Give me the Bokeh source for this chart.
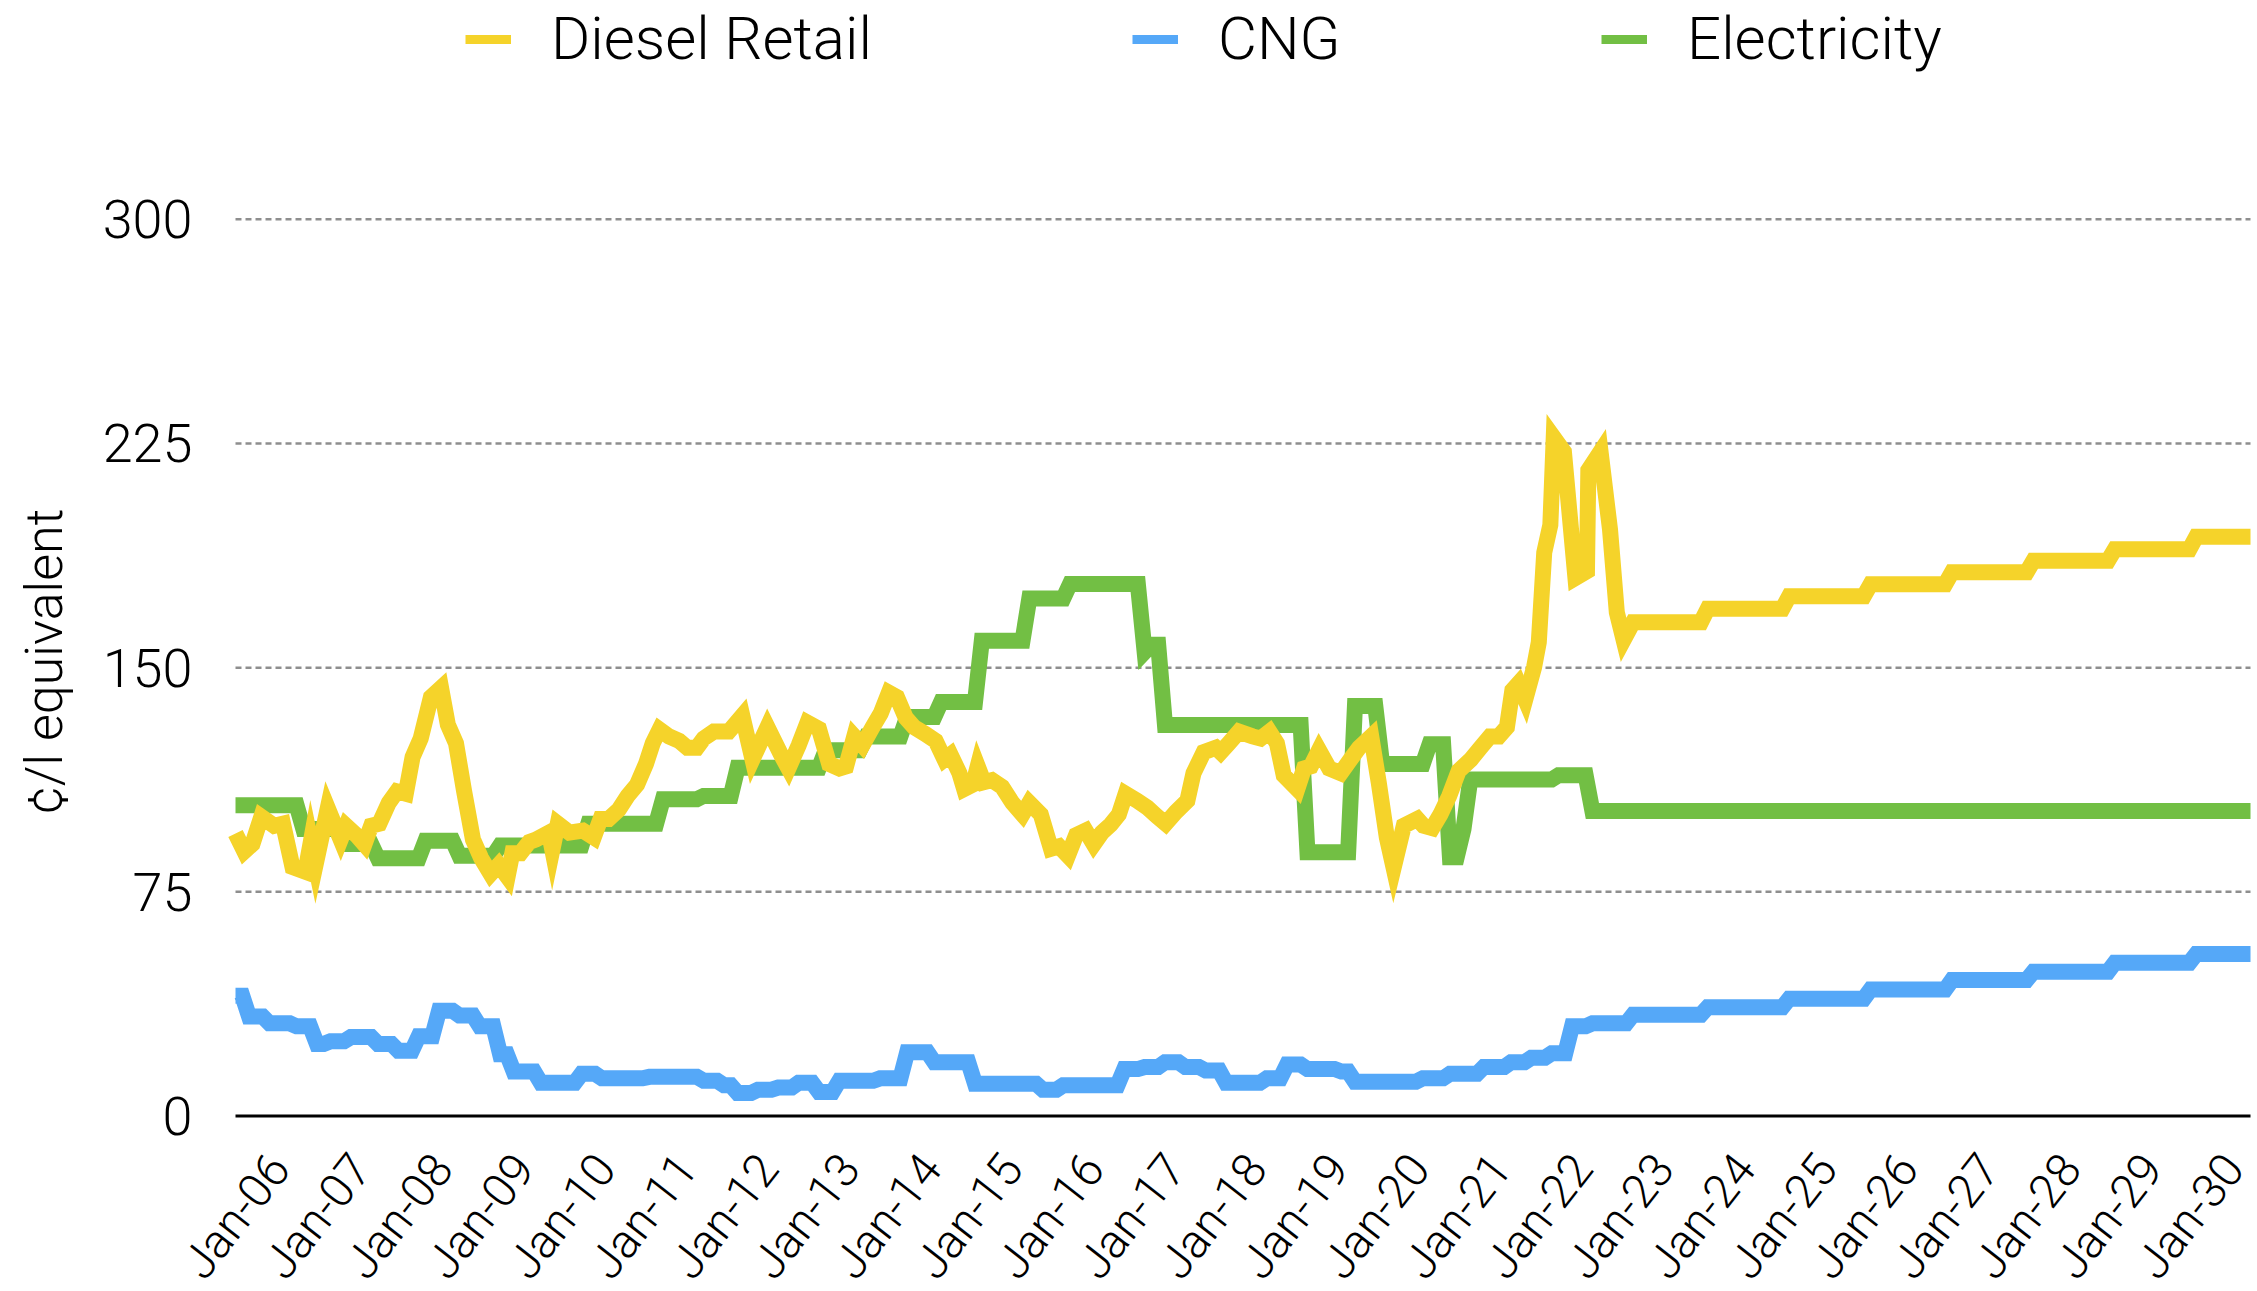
import math
from bokeh.plotting import figure
from bokeh.models import (Range1d, Legend, LegendItem, LabelSet, Label,
                          ColumnDataSource)
from bokeh.embed import file_html
from bokeh.resources import INLINE
from bokeh.core.properties import value

# ---------------- data (x = months since Jan-2006) ----------------
diesel_month = [
    0, 1.3, 2.5, 3.8, 5.7, 7.0, 8.4, 10.3, 11.1, 11.8,
    13.6, 15.5, 16.3, 17.8, 19.0, 20.0, 21.2, 22.6, 23.8, 25.1,
    26.1, 27.3, 28.8, 30.3, 31.3, 32.5, 33.7, 35.0, 36.2, 37.6,
    38.8, 40.1, 40.8, 42.0, 43.3, 44.3, 46.2, 46.7, 47.5, 49.2,
    51.2, 52.8, 53.8, 55.0, 56.5, 57.8, 59.2, 60.5, 61.5, 62.5,
    63.9, 65.4, 66.6, 68.0, 69.0, 70.5, 72.7, 74.7, 76.2, 78.4,
    80.4, 81.5, 83.0, 84.3, 86.0, 87.5, 89.0, 90.0, 91.2, 92.4,
    93.9, 95.1, 96.3, 97.5, 98.8, 100.0, 101.7, 103.2, 104.5, 105.4,
    106.7, 107.4, 108.7, 109.4, 110.3, 111.5, 113.0, 114.5, 116.0, 117.0,
    118.7, 120.2, 121.4, 122.7, 123.9, 125.3, 126.5, 127.7, 129.0, 130.2,
    131.2, 132.9, 134.4, 135.9, 137.1, 138.6, 140.3, 141.2, 142.7, 144.5,
    145.2, 146.4, 147.9, 149.9, 151.1, 152.4, 153.5, 154.5, 156.5, 157.5,
    158.5, 159.7, 161.2, 162.9, 164.6, 165.6, 167.4, 168.5, 169.7, 170.7,
    172.2, 174.2, 175.1, 176.4, 177.6, 178.9, 180.3, 182.1, 183.5, 184.9,
    186.2, 187.4, 188.2, 189.1, 190.1, 191.4, 192.1, 192.9, 193.8, 194.3,
    195.8, 197.5, 199.2, 199.4, 201.2, 202.6, 203.6, 204.6,
]
diesel_value = [
    94.5, 88.5, 91.0, 100.1, 97.1, 97.8, 83.3, 81.7, 91.7, 84.0,
    103.0, 92.5, 97.1, 94.0, 90.9, 97.1, 97.8, 104.8, 108.6, 107.8,
    120.1, 126.3, 140.1, 143.2, 130.9, 124.7, 108.6, 92.5, 86.3, 81.0,
    84.0, 80.0, 87.9, 87.9, 91.7, 92.5, 94.8, 89.0, 97.8, 94.8,
    95.5, 93.2, 99.4, 99.4, 102.5, 107.1, 110.9, 117.8, 124.7, 129.3,
    127.0, 125.5, 123.2, 123.2, 126.3, 128.6, 128.6, 133.9, 119.3, 130.1,
    120.9, 116.3, 124.0, 131.6, 129.5, 117.8, 116.3, 117.0, 127.0, 124.0,
    130.1, 134.7, 141.6, 140.1, 133.2, 130.1, 127.8, 125.5, 119.3, 120.9,
    114.7, 109.4, 110.9, 117.0, 111.7, 112.4, 110.1, 104.8, 100.9, 104.8,
    100.9, 89.4, 90.2, 87.1, 94.0, 95.5, 90.9, 94.8, 97.5, 100.9,
    107.8, 105.5, 103.2, 100.1, 97.8, 101.7, 105.5, 114.7, 121.7, 123.2,
    121.7, 124.7, 128.6, 127.0, 126.3, 128.6, 124.7, 114.0, 109.4, 116.3,
    117.0, 122.4, 116.3, 114.7, 120.1, 123.2, 127.0, 111.7, 93.2, 83.0,
    97.1, 99.4, 97.1, 96.3, 100.9, 107.1, 115.5, 119.3, 123.2, 127.0,
    127.0, 130.1, 142.4, 144.7, 139.3, 150.1, 158.5, 188.5, 197.7, 227.0,
    222.3, 180.0, 182.3, 216.1, 222.3, 196.1, 168.5, 159.3,
]
# projected diesel: flat yearly levels (first month, last month, value)
diesel_proj_start = [206, 217, 229, 241, 253, 265, 277, 289]
diesel_proj_end = [216, 228, 240, 252, 264, 276, 288, 297]
diesel_proj_value = [165.2, 169.7, 173.9, 177.9, 181.9, 185.8, 189.6, 193.8]

cng_start = [0, 2, 5, 9, 12, 14, 17, 21, 24, 27,
             30, 33, 36, 39, 41, 45, 51, 54, 61, 69,
             72, 74, 77, 80, 83, 86, 89, 95, 99, 103,
             109, 119, 122, 131, 134, 137, 140, 143, 146, 152,
             155, 158, 163, 165, 175, 179, 184, 188, 191, 194,
             197, 200, 206, 217, 229, 241, 253, 265, 277, 289]
cng_end = [1, 4, 8, 11, 13, 16, 20, 23, 26, 29,
           32, 35, 38, 40, 44, 50, 53, 60, 68, 71,
           73, 76, 79, 82, 85, 88, 94, 98, 102, 108,
           118, 121, 130, 133, 136, 139, 142, 145, 151, 154,
           157, 162, 164, 174, 178, 183, 187, 190, 193, 196,
           199, 205, 216, 228, 240, 252, 264, 276, 288, 297]
cng_value = [40.2, 33.3, 31.0, 30.0, 24.1, 25.0, 26.4, 24.1, 21.8, 26.7,
             35.2, 33.6, 30.0, 20.7, 14.9, 11.1, 14.1, 12.6, 13.1, 11.8,
             10.3, 7.7, 8.8, 9.5, 11.1, 8.0, 11.8, 12.6, 21.3, 18.0,
             10.8, 8.8, 10.3, 15.7, 16.4, 18.0, 16.4, 15.2, 11.1, 12.6,
             17.2, 15.7, 14.9, 11.5, 12.6, 14.1, 16.4, 18.0, 19.5, 21.0,
             30.0, 31.0, 33.9, 36.4, 39.2, 42.3, 45.5, 48.3, 51.3, 54.2]

elec_start = [0, 10, 16, 21, 28, 33, 39, 52, 63, 69,
              74, 87, 93, 99, 104, 110, 117, 123, 134, 135,
              137, 158, 165, 169, 176, 179, 181, 182, 195, 200]
elec_end = [9, 15, 20, 27, 32, 38, 51, 62, 68, 73,
            86, 92, 98, 103, 109, 116, 122, 133, 134, 136,
            157, 164, 168, 175, 178, 180, 181, 194, 199, 297]
elec_value = [104.0, 96.0, 91.0, 86.2, 92.1, 87.1, 90.5, 97.8, 106.0, 107.1,
              116.5, 122.4, 127.0, 133.5, 138.5, 159.0, 173.1, 178.0, 155.3, 157.7,
              130.8, 88.2, 137.2, 117.8, 124.4, 86.6, 96.0, 112.6, 114.0, 102.0]

year_labels = ["Jan-%02d" % (y % 100) for y in range(2006, 2031)]
y_ticks = [0, 75, 150, 225, 300]
y_tick_labels = ["0", "75", "150", "225", "300"]
grid_ticks = [75, 150, 225, 300]
y_title = "¢/l equivalent"

series_names = ["Diesel Retail", "CNG", "Electricity"]
YELLOW, BLUE, GREEN = "#F5D32A", "#55A8F8", "#72BF44"
FONT = "Roboto Light"


def segments_to_xy(starts, ends, vals):
    xs, ys = [], []
    for s, e, v in zip(starts, ends, vals):
        xs.append(s); ys.append(v)
        if e != s:
            xs.append(e); ys.append(v)
    return xs, ys


px, py = segments_to_xy(diesel_proj_start, diesel_proj_end, diesel_proj_value)
diesel_x = diesel_month + px
diesel_y = diesel_value + py
cng_x, cng_y = segments_to_xy(cng_start, cng_end, cng_value)
elec_x, elec_y = segments_to_xy(elec_start, elec_end, elec_value)
first_month, last_month = 0, max(elec_end)

# ---------------- geometry ----------------
W, H = 2257, 1291
PLOT_LEFT, PLOT_RIGHT = 235, 2250      # pixel columns of first / last month
BASE_Y, PX_PER_UNIT = 1115.5, 2.989    # pixel row of value 0, pixels per ¢/l
px_per_month = (PLOT_RIGHT - PLOT_LEFT) / (last_month - first_month)

# frame = whole canvas, so that every text (drawn as annotation) stays visible
p = figure(width=W, height=H, output_backend="svg", toolbar_location=None,
           x_range=Range1d(first_month - PLOT_LEFT / px_per_month,
                           last_month + (W - PLOT_RIGHT) / px_per_month),
           y_range=Range1d(-(H - BASE_Y) / PX_PER_UNIT, BASE_Y / PX_PER_UNIT),
           min_border_left=0, min_border_right=0,
           min_border_top=0, min_border_bottom=0)
p.outline_line_color = None
p.background_fill_color = "white"
p.border_fill_color = "white"
p.xaxis.visible = False
p.yaxis.visible = False
p.xgrid.visible = False
p.ygrid.visible = False

# horizontal dotted grid lines and the black category baseline
n = len(grid_ticks)
p.segment(x0=[first_month] * n, x1=[last_month] * n, y0=grid_ticks, y1=grid_ticks,
          line_color="#8e8e8e", line_width=2.5, line_dash="6 4")
p.segment(x0=[first_month], x1=[last_month], y0=[0], y1=[0],
          line_color="#000000", line_width=3)

# series
p.line(cng_x, cng_y, line_color=BLUE, line_width=16, line_join="miter")
p.line(elec_x, elec_y, line_color=GREEN, line_width=16, line_join="miter")
p.line(diesel_x, diesel_y, line_color=YELLOW, line_width=16, line_join="miter")

# y tick labels
ysrc = ColumnDataSource(dict(x=[first_month] * len(y_ticks), y=y_ticks, text=y_tick_labels))
p.add_layout(LabelSet(x="x", y="y", text="text", source=ysrc, x_offset=-43,
                      text_align="right", text_baseline="middle",
                      text_font=value(FONT), text_font_size="54px",
                      text_color="#000000"))

# y axis title
p.add_layout(Label(x=44, y=H - 661, x_units="screen", y_units="screen",
                   text=y_title, angle=math.pi / 2, text_align="center",
                   text_baseline="middle", text_font=FONT,
                   text_font_size="52px", text_color="#000000"))

# month labels, centred on each January
xsrc = ColumnDataSource(dict(x=[first_month + 12 * i for i in range(len(year_labels))],
                             y=[0] * len(year_labels), text=year_labels))
p.add_layout(LabelSet(x="x", y="y", text="text", source=xsrc,
                      angle=math.radians(52), text_align="center",
                      text_baseline="middle", y_offset=-100,
                      text_font=value(FONT), text_font_size="47px",
                      text_color="#000000"))

# legend: three separately placed entries along the top
series_xy = [(diesel_x, diesel_y), (cng_x, cng_y), (elec_x, elec_y)]
for name, color, (sx, sy), left in zip(series_names, [YELLOW, BLUE, GREEN],
                                       series_xy, [465, 1132, 1601]):
    r = p.line(sx, sy, line_color=color, line_width=9, visible=False)
    lg = Legend(items=[LegendItem(label=name, renderers=[r])],
                location=(left, H - 2 - 70 - 2), orientation="horizontal",
                glyph_width=46, glyph_height=70, label_height=70,
                label_standoff=40, padding=0, margin=0, spacing=0,
                border_line_color=None, background_fill_alpha=0,
                inactive_fill_alpha=0,
                label_text_font=FONT, label_text_font_size="60px",
                label_text_color="#000000")
    p.add_layout(lg)

open("out.html", "w").write(file_html(p, INLINE))
